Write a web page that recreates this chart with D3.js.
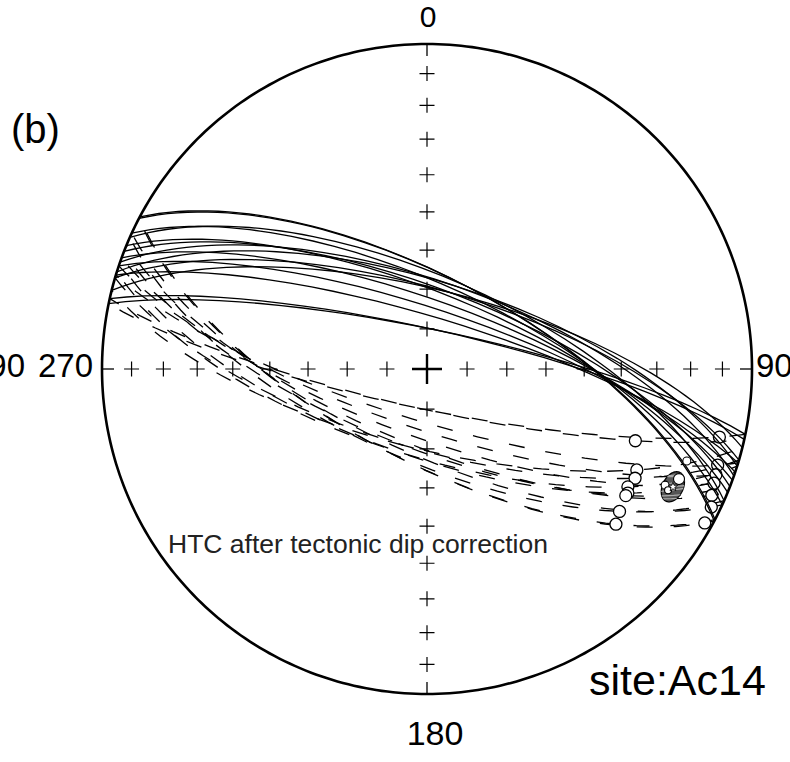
<!DOCTYPE html>
<html>
<head>
<meta charset="utf-8">
<script src="https://cdn.jsdelivr.net/npm/d3@7"></script>
<style>
  body { margin: 0; background: #fff; }
  svg { display: block; }
  text { font-family: "Liberation Sans", Arial, sans-serif; fill: #000; }
</style>
</head>
<body>
<script>
// remagnetisation great circles: strike of the west end (deg), dip (deg)
var circleStrike = [281.6, 286.8, 288.5, 290, 292.3, 294.7, 297.9, 282.5, 284, 286.3, 287.4, 289.2, 291.2, 293.9, 297.6];
var circleDip    = [80, 77, 75, 73, 71, 69, 67, 80, 70, 70, 68, 68, 70, 67, 67];
// declination of the fitted (upper hemisphere) point on each circle
var pointDec     = [103.1, 108.3, 110.1, 111.7, 113.9, 115.9, 119.0, 109.0, 115.7, 117.7, 120.4, 121.7, 122.5, 126.5, 129.4];

// extra directions (upper hemisphere), dec / inc / symbol radius
var dirDec  = [109.5, 113.6, 116.0, 116.7];
var dirInc  = [-16.3, -16.5, -19.6, -18.1];
var dirSize = [4, 5.5, 4, 3.5];

// site mean and its a95
var meanDec = 115.6, meanInc = -17.2, meanA95 = 3.2;

// tick crosses along the axes
var axisDecs = [0, 90, 180, 270];
var axisIncs = [10, 20, 30, 40, 50, 60, 70, 80];

var cx = 427, cy = 369, R = 325;
var rad = Math.PI / 180;

var svg = d3.select("body")
    .append("svg")
    .attr("width", 790)
    .attr("height", 762);

// equal-area net: nadir in the centre, north up
var projection = d3.geoAzimuthalEqualArea()
    .rotate([0, -90])
    .scale(R / Math.SQRT2)
    .translate([cx, cy])
    .precision(0.1);

var path = d3.geoPath(projection);

// direction -> lon/lat for the projection (upper hemisphere plotted by |inc|)
function lonlat(dec, inc){
    return [180 - dec, Math.abs(inc)];
}

function vec(dec, inc){
    return [Math.cos(inc*rad)*Math.cos(dec*rad), Math.cos(inc*rad)*Math.sin(dec*rad), Math.sin(inc*rad)];
}

function decOf(v){
    var d = Math.atan2(v[1], v[0]) / rad;
    return (d + 360) % 360;
}

// point on the upper half of a circle with a given declination
function pointOnCircle(A, dip, dec){
    var e = vec(A + 180, 0), m = vec(A - 90, dip);
    var E = (A + 180) % 360;
    var target = (dec - E + 360) % 360;
    var lo = 0, hi = 180, u;
    for (var k=0; k<60; k++){
        var s = (lo + hi) / 2;
        u = [0,1,2].map(function(i){ return Math.cos(s*rad)*e[i] + Math.sin(s*rad)*m[i]; });
        var got = (decOf(u) - E + 360) % 360;
        if (got < target) lo = s; else hi = s;
    }
    return [dec, Math.asin(u[2]) / rad];
}

// axis crosses
var crosses = [];
axisDecs.forEach(function(d){
    axisIncs.forEach(function(i){ crosses.push(projection(lonlat(d, i))); });
});

svg.append("g")
    .selectAll("path")
    .data(crosses)
    .enter()
    .append("path")
    .attr("d", function(p){
        return "M" + (p[0]-7.5) + "," + p[1] + "H" + (p[0]+7.5) + "M" + p[0] + "," + (p[1]-7.5) + "V" + (p[1]+7.5);
    })
    .attr("stroke", "#000")
    .attr("stroke-width", 1.2)
    .attr("fill", "none");

// centre cross
svg.append("path")
    .attr("d", "M" + (cx-15) + "," + cy + "H" + (cx+15) + "M" + cx + "," + (cy-15) + "V" + (cy+15))
    .attr("stroke", "#000")
    .attr("stroke-width", 2.4);

// edge ticks
var tickInc = Math.asin(1 - Math.pow((R - 12) / R, 2)) / rad;
svg.append("g")
    .selectAll("path")
    .data(axisDecs)
    .enter()
    .append("path")
    .attr("d", function(d){
        var a = projection(lonlat(d, 0)), b = projection(lonlat(d, tickInc));
        return "M" + a[0] + "," + a[1] + "L" + b[0] + "," + b[1];
    })
    .attr("stroke", "#000")
    .attr("stroke-width", 1.3);

// primitive (horizontal plane)
svg.append("path")
    .attr("d", path(d3.geoCircle().center([0, 90]).radius(90).precision(1)()))
    .attr("fill", "none")
    .attr("stroke", "#000")
    .attr("stroke-width", 2.6);

// upper hemisphere halves (dashed)
function upperArc(i){
    var A = circleStrike[i], dip = circleDip[i];
    return {type: "LineString", coordinates: [lonlat(A + 180, 0), lonlat(A - 90, dip), lonlat(A, 0)]};
}
function lowerArc(i){
    var A = circleStrike[i], dip = circleDip[i];
    return {type: "LineString", coordinates: [lonlat(A, 0), lonlat(A + 90, dip), lonlat(A + 180, 0)]};
}

var idx = d3.range(circleStrike.length);

svg.append("g")
    .selectAll("path")
    .data(idx)
    .enter()
    .append("path")
    .attr("d", function(i){ return path(upperArc(i)); })
    .attr("fill", "none")
    .attr("stroke", "#000")
    .attr("stroke-width", 1.3)
    .attr("stroke-dasharray", "16,21")
    .attr("stroke-dashoffset", function(i){ return (i * 7) % 30; });

// fitted points on circles
svg.append("g")
    .selectAll("circle")
    .data(idx)
    .enter()
    .append("circle")
    .attr("transform", function(i){
        var p = projection(lonlat.apply(null, pointOnCircle(circleStrike[i], circleDip[i], pointDec[i])));
        return "translate(" + p[0] + "," + p[1] + ")";
    })
    .attr("r", 6)
    .attr("fill", "#fff")
    .attr("stroke", "#000")
    .attr("stroke-width", 1.3);

// lower hemisphere halves (solid)
svg.append("g")
    .selectAll("path")
    .data(idx)
    .enter()
    .append("path")
    .attr("d", function(i){ return path(lowerArc(i)); })
    .attr("fill", "none")
    .attr("stroke", "#000")
    .attr("stroke-width", 1.3);

// a95 of the mean
var cone = d3.geoCircle().center(lonlat(meanDec, meanInc)).radius(meanA95).precision(2)();

svg.append("clipPath")
    .attr("id", "coneClip")
    .append("path")
    .attr("d", path(cone));

svg.append("path")
    .attr("d", path(cone))
    .attr("fill", "#555")
    .attr("stroke", "#000")
    .attr("stroke-width", 1.3);

svg.append("g")
    .attr("clip-path", "url(#coneClip)")
    .selectAll("path")
    .data(idx)
    .enter()
    .append("path")
    .attr("d", function(i){ return path(upperArc(i)); })
    .attr("fill", "none")
    .attr("stroke", "#aaa")
    .attr("stroke-width", 1.3);

// other directions
svg.append("g")
    .selectAll("circle")
    .data(dirDec)
    .enter()
    .append("circle")
    .attr("transform", function(d, i){
        var p = projection(lonlat(d, dirInc[i]));
        return "translate(" + p[0] + "," + p[1] + ")";
    })
    .attr("r", function(d, i){ return dirSize[i]; })
    .attr("fill", "#fff")
    .attr("stroke", "#000")
    .attr("stroke-width", 1.1);

// mean direction (open star)
var mp = projection(lonlat(meanDec, meanInc));
svg.append("path")
    .attr("d", d3.symbol(d3.symbolStar, 28)())
    .attr("transform", "translate(" + mp[0] + "," + mp[1] + ")")
    .attr("fill", "#fff")
    .attr("stroke", "#000")
    .attr("stroke-width", 0.8);

// labels
svg.append("text").attr("x", 428).attr("y", 27).attr("text-anchor", "middle").style("font-size", "30px").text("0");
svg.append("text").attr("x", 435).attr("y", 745).attr("text-anchor", "middle").style("font-size", "34px").text("180");
svg.append("text").attr("x", 93).attr("y", 377).attr("text-anchor", "end").style("font-size", "33px").text("270");
svg.append("text").attr("x", 25).attr("y", 377).attr("text-anchor", "end").style("font-size", "33px").text("90");
svg.append("text").attr("x", 756).attr("y", 377).style("font-size", "33px").text("90");
svg.append("text").attr("x", 11).attr("y", 143).style("font-size", "40px").text("(b)");
svg.append("text").attr("x", 589).attr("y", 695).style("font-size", "43px").text("site:Ac14");
svg.append("text").attr("x", 168).attr("y", 553).style("font-size", "26.5px").style("fill", "#222").text("HTC after tectonic dip correction");
</script>
</body>
</html>
